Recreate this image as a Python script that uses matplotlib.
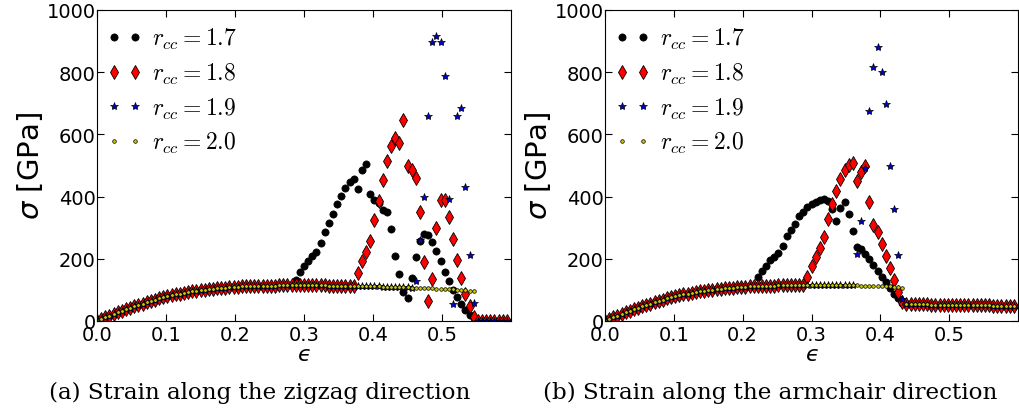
import numpy as np
import matplotlib
matplotlib.use("Agg")
import matplotlib.pyplot as plt
from matplotlib.font_manager import FontProperties

# ---------------- data ----------------
# strain grid (step 0.006), 100 points
strain = np.round(np.arange(100) * 0.006, 3)

# zigzag: common elastic curve (r_cc = 2.0 follows it to i=91)
zz_base = [0, 6, 12, 17, 23, 28, 33, 38, 43, 47,
           52, 56, 61, 65, 69, 73, 76, 80, 83, 86,
           88, 91, 93, 95, 97, 99, 100, 102, 103, 105,
           106, 107, 108, 109, 110, 111, 111, 112, 112, 113,
           113, 114, 114, 114, 115, 115, 115, 115, 115, 115,
           115,
           115, 115, 115, 115, 115, 114, 114, 114, 114, 114,
           113, 113, 113, 112, 112, 112, 111, 111, 110, 110,
           110, 109, 109, 108, 108, 107, 107, 106, 106, 105,
           105, 104, 104, 103, 102, 102, 101, 100, 99, 98,
           97]
zz_r17_break = [133, 156, 176, 192, 208, 223, 252, 285, 314, 344,
                376, 403, 427, 448, 457, 424, 487, 505, 408, 389,
                379, 357, 349, 296, 210, 151, 94, 74, 137, 207,
                258, 280, 277, 255, 224, 192, 159, 128, 101, 76,
                55, 35, 19, 9]                       # i = 48..91
zz_r18_break = [154, 192, 221, 257, 325, 385, 453, 514, 563, 587,
                572, 647, 498, 487, 459, 352, 191, 63, 135, 300,
                388, 388, 333, 264, 196, 137, 87, 47, 12]   # i = 63..91
zz_r19_break = [130, 261, 400, 658, 898, 917, 898, 789, 392, 55,
                660, 684, 432, 212, 57]              # i = 77..91
zz_tail = [0, 0, 0, 0, 0, 0, 0, 0]                   # i = 92..99

# armchair: common elastic curve (r_cc = 2.0 follows it to i=72)
ac_base = [0, 6, 12, 17, 23, 28, 33, 38, 43, 47,
           52, 56, 61, 65, 69, 73, 76, 80, 83, 86,
           88, 91, 93, 95, 97, 99, 101, 102, 104, 105,
           106, 107, 108, 109, 110, 111, 112, 112, 113, 113,
           114, 114, 115, 115, 116, 116, 116, 116, 117, 117,
           117,
           117, 117, 117, 116, 116, 116, 116, 115, 115, 115,
           115, 114, 114, 114, 113, 113, 112, 112, 111, 110,
           108, 106]
ac_r17_break = [140, 162, 178, 195, 207, 220, 240, 272, 294, 312,
                337, 352, 365, 376, 383, 389, 392,
                385, 360, 320, 363, 382, 344, 288, 237, 231, 215,
                199, 180, 160, 140, 124, 105, 87, 74, 58]   # i = 37..72
ac_r18_break = [140, 178, 207, 235, 269, 328, 376, 419, 457, 486,
                502, 508, 449, 478, 497, 384, 309, 285, 248, 208,
                169, 132, 92, 60]                    # i = 49..72
ac_r19_break = [215, 323, 491, 676, 818, 882, 802, 697, 497, 360,
                213, 71]                             # i = 61..72
ac_tail = [56, 55, 55, 54, 54, 54, 53, 53, 53, 52,
           52, 52, 52, 51, 51, 51, 51, 50, 50, 50,
           50, 49, 49, 49, 49, 48, 48]              # i = 73..99

labels = ['$r_{cc}=1.7$', '$r_{cc}=1.8$', '$r_{cc}=1.9$', '$r_{cc}=2.0$']
captions = ['(a) Strain along the zigzag direction',
            '(b) Strain along the armchair direction']

zz_series = [zz_base[:48] + zz_r17_break + zz_tail,
             zz_base[:63] + zz_r18_break + zz_tail,
             zz_base[:77] + zz_r19_break + zz_tail,
             zz_base]
ac_series = [ac_base[:37] + ac_r17_break + ac_tail,
             ac_base[:49] + ac_r18_break + ac_tail,
             ac_base[:61] + ac_r19_break + ac_tail,
             ac_base + ac_tail]

styles = [dict(marker='o', color='black', markersize=5.2, markeredgecolor='black', markeredgewidth=0.5),
          dict(marker='d', color='red', markersize=6.8, markeredgecolor='black', markeredgewidth=0.6),
          dict(marker='*', color='#0000cc', markersize=6, markeredgecolor='black', markeredgewidth=0.5),
          dict(marker='o', color='#c8c800', markersize=2.6, markeredgecolor='black', markeredgewidth=0.5)]

fig = plt.figure(figsize=(10.19, 4.14), dpi=100)
W, H = 1019.0, 414.0
axes = [fig.add_axes([97 / W, 92 / H, 414 / W, 311 / H]),
        fig.add_axes([605 / W, 92 / H, 413 / W, 311 / H])]

leg_prop = FontProperties(size=17, math_fontfamily='cm')

for ax, series, cap, cx in zip(axes, [zz_series, ac_series], captions, [260, 770]):
    for ys, st, lab in zip(series, styles, labels):
        ax.plot(strain[:len(ys)], ys, linestyle='none', label=lab, **st)
    ax.set_xlim(0, 0.6)
    ax.set_ylim(0, 1000)
    ax.set_xticks([0.0, 0.1, 0.2, 0.3, 0.4, 0.5])
    ax.set_xticklabels(['0.0', '0.1', '0.2', '0.3', '0.4', '0.5'])
    ax.set_yticks([0, 200, 400, 600, 800, 1000])
    ax.tick_params(direction='in', top=True, right=True, length=5, width=0.8,
                   labelsize=14)
    ax.tick_params(axis='y', pad=1)
    ax.tick_params(axis='x', pad=3)
    ax.set_ylabel(r'$\sigma$ [GPa]', fontsize=21, labelpad=1)
    ax.set_xlabel('$\u03f5$', fontsize=16, labelpad=0)
    ax.legend(loc='upper left', bbox_to_anchor=(-0.0097, 0.9936),
              numpoints=2, frameon=False, prop=leg_prop,
              handlelength=1.5, handletextpad=0.4, labelspacing=0.41,
              borderaxespad=0.3, borderpad=0.3)
    fig.text(cx / W, 1 - 393 / H, cap, ha='center', va='center',
             fontsize=16.6, family='DejaVu Serif')

fig.savefig('out.png', dpi=100)
